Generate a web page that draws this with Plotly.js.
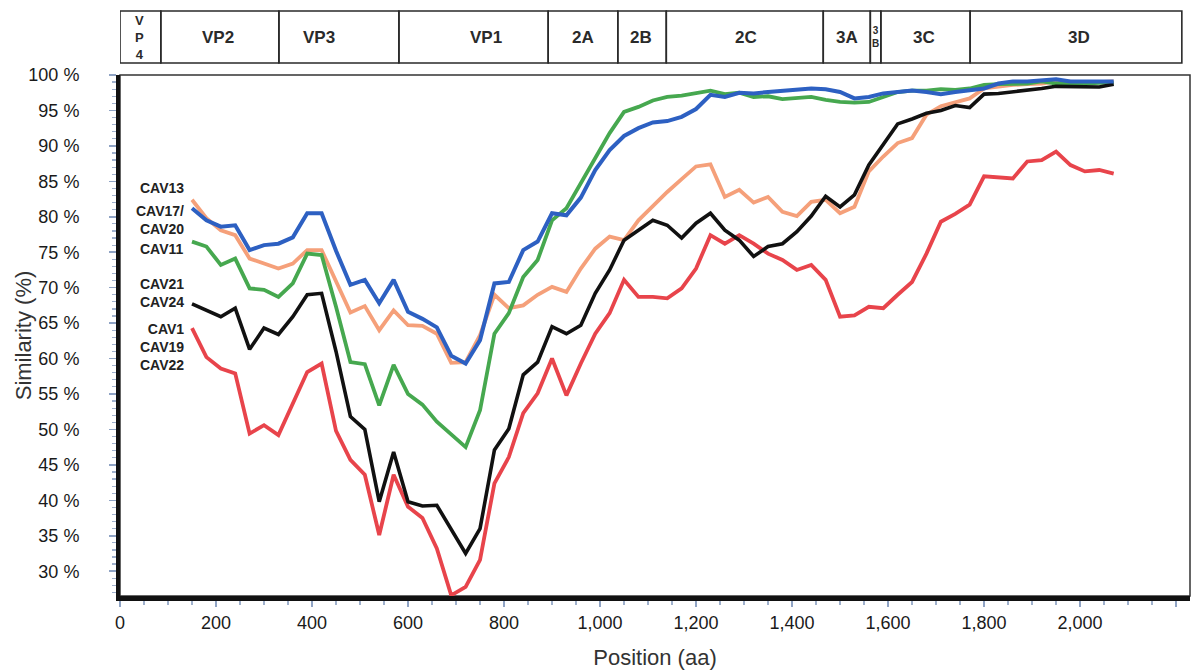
<!DOCTYPE html>
<html>
<head>
<meta charset="utf-8">
<script src="https://cdn.plot.ly/plotly-3.0.1.min.js"></script>
<style>html,body{margin:0;padding:0;background:#fff;}#chart{width:1191px;height:670px;}</style>
</head>
<body>
<div id="chart"></div>
<script>
// Window positions (aa)
const positions = [150,180,210,240,270,300,330,360,390,420,450,480,510,540,570,600,630,660,690,720,750,780,810,840,870,900,930,960,990,1020,1050,1080,1110,1140,1170,1200,1230,1260,1290,1320,1350,1380,1410,1440,1470,1500,1530,1560,1590,1620,1650,1680,1710,1740,1770,1800,1830,1860,1890,1920,1950,1980,2010,2040,2070];

const cav13 = [82.4,79.8,78.1,77.4,74.1,73.4,72.7,73.4,75.3,75.3,70.8,66.5,67.4,64.0,66.8,64.7,64.6,63.5,59.4,59.5,63.3,69.0,67.1,67.5,69.0,70.1,69.4,72.7,75.5,77.2,76.7,79.5,81.5,83.5,85.3,87.1,87.4,82.8,83.8,82.0,82.8,80.7,80.1,82.1,82.4,80.5,81.4,86.4,88.5,90.4,91.1,94.4,95.6,96.1,96.7,98.1,98.4,98.6,98.7,98.8,99.1,99.0,99.0,99.0,99.1];

const cav17_20 = [81.2,79.5,78.6,78.8,75.3,76.0,76.2,77.1,80.5,80.5,75.2,70.4,71.1,67.8,71.1,66.6,65.6,64.4,60.4,59.3,62.6,70.6,70.8,75.3,76.5,80.5,80.2,82.7,86.6,89.4,91.4,92.5,93.3,93.5,94.1,95.2,97.2,96.9,97.5,97.4,97.6,97.8,98.0,98.1,98.0,97.6,96.7,96.9,97.4,97.6,97.8,97.6,97.3,97.6,97.8,98.1,98.8,99.1,99.1,99.2,99.4,99.1,99.1,99.1,99.1];

const cav11 = [76.5,75.8,73.2,74.1,69.9,69.7,68.7,70.6,74.8,74.6,67.3,59.5,59.2,53.4,59.1,55.0,53.5,51.1,49.3,47.5,52.7,63.5,66.4,71.5,73.9,79.5,81.2,84.8,88.4,91.8,94.8,95.5,96.4,96.9,97.1,97.5,97.8,97.3,97.5,96.9,97.0,96.6,96.7,96.9,96.5,96.2,96.1,96.2,96.9,97.6,97.8,97.8,98.0,97.9,98.1,98.6,98.7,98.7,98.8,99.1,98.8,98.9,98.8,98.9,98.9];

const cav21_24 = [67.7,66.8,65.9,67.1,61.3,64.3,63.4,65.9,69.0,69.2,61.0,51.8,50.0,39.8,46.8,39.8,39.2,39.3,36.0,32.5,36.0,47.1,50.1,57.7,59.5,64.5,63.5,64.7,69.2,72.5,76.7,78.1,79.5,78.8,77.0,79.1,80.5,78.1,76.7,74.4,75.8,76.2,77.9,80.1,82.9,81.4,83.1,87.3,90.3,93.1,93.8,94.6,95.0,95.7,95.4,97.3,97.4,97.6,97.9,98.1,98.4,98.4,98.3,98.3,98.7];

const cav1_19_22 = [64.3,60.2,58.6,57.9,49.4,50.6,49.2,53.7,58.1,59.3,49.8,45.7,43.6,35.1,43.6,39.1,37.5,33.2,26.6,27.8,31.6,42.4,46.1,52.3,55.1,60.0,54.8,59.3,63.5,66.4,71.1,68.7,68.7,68.5,69.9,72.7,77.4,76.2,77.4,76.2,74.8,73.9,72.5,73.2,71.1,65.9,66.1,67.3,67.1,69.0,70.8,74.8,79.3,80.4,81.7,85.7,85.6,85.4,87.8,88.0,89.2,87.3,86.4,86.6,86.1];

// Genome map (aa)
const regionNames = ['V<br>P<br>4','VP2','VP3','VP1','2A','2B','2C','3A','3<br>B','3C','3D'];
const regionStarts = [0,85,331,581,892,1037,1138,1465,1563,1585,1771];
const regionEnds   = [85,331,581,892,1037,1138,1465,1563,1585,1771,2212];
const regionLabelPos = [40,204,415,762,965,1085,1304,1515,1574,1675,1998];

// Series labels (one text per group)
const seriesLabels = ['CAV13','CAV17/<br>CAV20','CAV11','CAV21<br>CAV24','CAV1<br>CAV19<br>CAV22'];
const seriesLabelY = [84.1,79.5,75.4,69.25,61.6];

// Axis settings
const xRange = [0, 2229];
const yRange = [26.5, 100];

const FONT = 'Liberation Sans, Arial, Helvetica, sans-serif';

function tr(y, color, w) {
  return {x: positions, y: y, type: 'scatter', mode: 'lines',
          line: {color: color, width: w, shape: 'linear'}, hoverinfo: 'skip'};
}
const data = [
  tr(cav13, '#f5a07a', 3.8),
  tr(cav1_19_22, '#e8444b', 3.8),
  tr(cav11, '#46a84f', 3.8),
  tr(cav21_24, '#111111', 3.6),
  tr(cav17_20, '#2d60c2', 4)
];

const yTop = 1.1228, yBot = 1.0230;
const shapes = [];
const annotations = [];
for (let i = 0; i < regionNames.length; i++) {
  shapes.push({type: 'rect', xref: 'x', yref: 'paper', x0: regionStarts[i], x1: regionEnds[i],
               y0: yBot, y1: yTop, line: {color: '#2a2a2a', width: 1.6}, fillcolor: 'rgba(0,0,0,0)'});
  let fs = 17;
  if (i === 0) fs = 13;
  if (i === 8) fs = 10;
  annotations.push({xref: 'x', yref: 'paper', x: regionLabelPos[i], y: (yTop + yBot) / 2,
                    text: '<b>' + regionNames[i] + '</b>', showarrow: false,
                    font: {family: FONT, size: fs, color: '#2a2a2a'},
                    xanchor: 'center', yanchor: 'middle'});
}
// plot frame (thin top/right)
shapes.push({type: 'rect', xref: 'paper', yref: 'paper', x0: 0, x1: 1, y0: 0, y1: 1,
             line: {color: '#333', width: 1.5}, layer: 'below'});

for (let i = 0; i < seriesLabels.length; i++) {
  annotations.push({xref: 'x', yref: 'y', x: 138, y: seriesLabelY[i], text: '<b>' + seriesLabels[i] + '</b>',
                    showarrow: false, xanchor: 'right', yanchor: 'middle', align: 'right',
                    font: {family: FONT, size: 14, color: '#222'}});
}

const tickFont = {family: FONT, size: 18, color: '#1a1a1a'};
const layout = {
  width: 1191, height: 670,
  margin: {l: 120, r: 1, t: 75, b: 74, pad: 0},
  paper_bgcolor: '#fff', plot_bgcolor: '#fff',
  showlegend: false,
  font: {family: FONT, color: '#222'},
  xaxis: {
    range: xRange, showgrid: false, zeroline: false,
    showline: true, linecolor: '#111', linewidth: 5,
    tickmode: 'linear', tick0: 0, dtick: 200, tickformat: ',d',
    ticks: 'outside', ticklen: 6, tickwidth: 1.5, tickcolor: '#8fa3c4',
    minor: {dtick: 50, ticks: 'outside', ticklen: 4, tickwidth: 1.2, tickcolor: '#9fb0cc', showgrid: false},
    tickfont: tickFont,
    ticklabelstandoff: 0,
    title: {text: 'Position (aa)', font: {family: FONT, size: 22, color: '#333'}}
  },
  yaxis: {
    range: yRange, showgrid: false, zeroline: false,
    showline: true, linecolor: '#111', linewidth: 4,
    tickmode: 'linear', tick0: 0, dtick: 5, ticksuffix: ' %',
    ticks: 'outside', ticklen: 7, tickwidth: 1.5, tickcolor: '#8fa3c4',
    minor: {dtick: 1, ticks: 'outside', ticklen: 4, tickwidth: 1.2, tickcolor: '#9fb0cc', showgrid: false},
    tickfont: tickFont,
    ticklabelstandoff: 26,
    title: {text: 'Similarity (%)', font: {family: FONT, size: 22, color: '#333'}}
  },
  shapes: shapes,
  annotations: annotations
};

Plotly.newPlot('chart', data, layout, {displayModeBar: false, staticPlot: true});
</script>
</body>
</html>
